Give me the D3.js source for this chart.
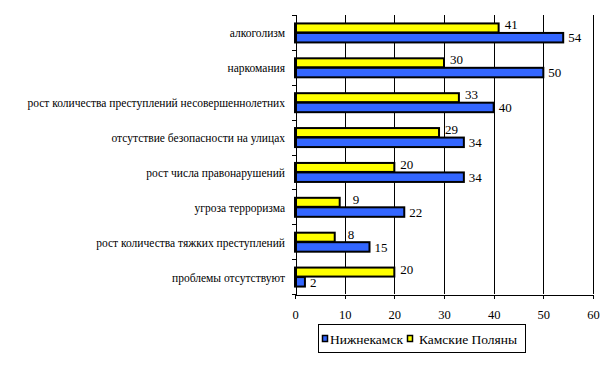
<!DOCTYPE html>
<html lang="ru">
<head>
<meta charset="utf-8">
<title>Chart</title>
<script src="https://d3js.org/d3.v7.min.js"></script>
<style>
body{ margin:0; background:#fff; }
svg text{ font-family:"Liberation Serif","Times New Roman",serif !important; fill:#000; }
.axis path, .axis line{ stroke:#000; shape-rendering:crispEdges; }
.grid line{ stroke:#000; shape-rendering:crispEdges; }
</style>
</head>
<body>
<div id="chart"></div>
<script>
const categories = [
  "алкоголизм",
  "наркомания",
  "рост количества преступлений несовершеннолетних",
  "отсутствие безопасности на улицах",
  "рост числа правонарушений",
  "угроза терроризма",
  "рост количества тяжких преступлений",
  "проблемы отсутствуют"
];
const nizhnekamsk = [54, 50, 40, 34, 34, 22, 15, 2];
const kamskiePolyany = [41, 30, 33, 29, 20, 9, 8, 20];
const xTicks = [0, 10, 20, 30, 40, 50, 60];
const seriesNames = ["Нижнекамск", "Камские Поляны"];
const colors = ["#3366ff", "#ffff00"];

const W = 611, H = 367;
const mLeft = 295, mRight = 593, mTop = 15, mBottom = 294;

const svg = d3.select("#chart").append("svg")
  .attr("width", W).attr("height", H);

const x = d3.scaleLinear().domain([0, 60]).range([mLeft, mRight]);
const y = d3.scaleBand().domain(categories).range([mTop, mBottom]);

// vertical gridlines
svg.append("g").attr("class", "grid")
  .selectAll("line").data(xTicks.slice(1)).enter().append("line")
  .attr("x1", d => Math.round(x(d)) + 0.5).attr("x2", d => Math.round(x(d)) + 0.5)
  .attr("y1", mTop).attr("y2", mBottom);

// bars
const rows = categories.map((c, i) => ({cat: c, blue: nizhnekamsk[i], yellow: kamskiePolyany[i]}));
const g = svg.selectAll(".row").data(rows).enter().append("g").attr("class", "row");
const mid = d => y(d.cat) + y.bandwidth() / 2;

g.append("rect")
  .attr("x", x(0)).attr("y", d => mid(d) - 9)
  .attr("width", d => x(d.yellow) - x(0)).attr("height", 9)
  .attr("fill", colors[1]).attr("stroke", "#000").attr("stroke-width", 2);
g.append("rect")
  .attr("x", x(0)).attr("y", d => mid(d) + 0.5)
  .attr("width", d => x(d.blue) - x(0)).attr("height", 9.5)
  .attr("fill", colors[0]).attr("stroke", "#000").attr("stroke-width", 2);

g.append("text")
  .attr("x", d => x(d.yellow) + (d.yellow < 10 ? 13 : 6)).attr("y", d => mid(d) - 3)
  .style("font-size", "13px").text(d => d.yellow);
g.append("text")
  .attr("x", d => x(d.blue) + 5).attr("y", d => mid(d) + 10)
  .style("font-size", "13px").text(d => d.blue);

// category labels
g.append("text")
  .attr("x", 285).attr("y", d => mid(d) + 5)
  .attr("text-anchor", "end")
  .style("font-size", "11.5px").text(d => d.cat);

// axes
svg.append("g").attr("class", "axis")
  .attr("transform", "translate(" + (mLeft + 0.5) + ",0)")
  .call(d3.axisLeft(d3.scaleLinear().domain([0, categories.length]).range([mTop, mBottom]))
    .ticks(categories.length).tickSize(4).tickFormat(""));

svg.append("g").attr("class", "axis")
  .attr("transform", "translate(0," + (mBottom + 0.5) + ")")
  .call(d3.axisBottom(x).tickValues(xTicks).tickSize(4).tickPadding(12))
  .call(a => a.selectAll("text").style("font-size", "12.5px"));

// legend
const lg = svg.append("g");
lg.append("rect").attr("x", 318.5).attr("y", 324.5).attr("width", 207).attr("height", 28)
  .attr("fill", "#fff").attr("stroke", "#000");
const items = [{name: seriesNames[0], c: colors[0], x: 322, tx: 330},
               {name: seriesNames[1], c: colors[1], x: 407, tx: 419}];
items.forEach(it => {
  lg.append("rect").attr("x", it.x + 0.5).attr("y", 335.5).attr("width", 5).attr("height", 6)
    .attr("fill", it.c).attr("stroke", "#000").attr("stroke-width", 1.5);
  lg.append("text").attr("x", it.tx).attr("y", 344).style("font-size", "13.5px").text(it.name);
});
</script>
</body>
</html>
